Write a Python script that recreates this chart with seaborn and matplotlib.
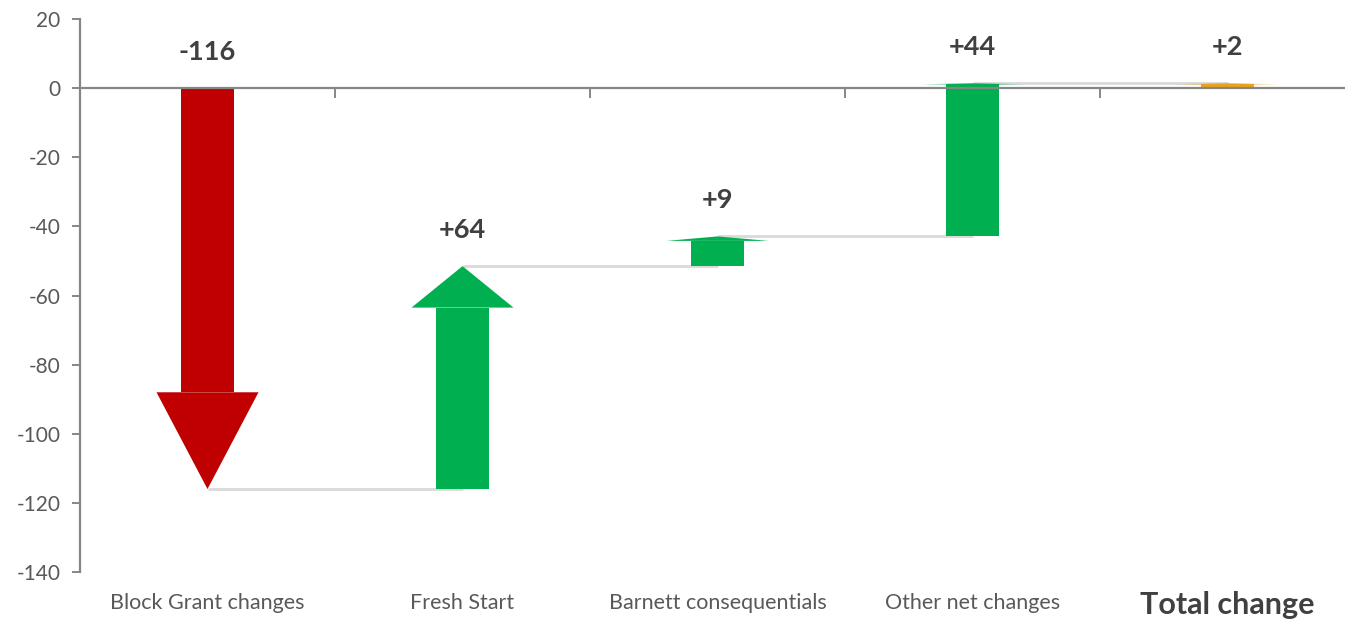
import numpy as np
import pandas as pd
import matplotlib
matplotlib.use("Agg")
import matplotlib.pyplot as plt
import seaborn as sns
from matplotlib.patches import Polygon

# Data
categories = ["Block Grant changes", "Fresh Start", "Barnett consequentials",
              "Other net changes", "Total change"]
changes = [-116, 64.5, 8.6, 44.3]
total = 1.4
value_labels = ["-116", "+64", "+9", "+44", "+2"]

# Styling
RED = "#C00000"
GREEN = "#00B050"
GOLD = "#E8A317"
bar_colors = [RED, GREEN, GREEN, GREEN, GOLD]
head_len = [28, 12, 1.3, 0.3, 0.3]
SHAFT_W = 0.205
HEAD_W = 0.40
AXIS_GREY = "#868686"
TICK_GREY = "#595959"
LABEL_DARK = "#404040"

sns.set_style("ticks")
plt.rcParams['font.family'] = ['Lato', 'DejaVu Sans']
plt.rcParams['axes.unicode_minus'] = False

ends = np.concatenate([np.cumsum(changes), [total]])
starts = np.concatenate([[0], ends[:-2], [0]])
sign = np.sign(ends - starts)
shaft_top = ends - sign * np.array(head_len)

fig = plt.figure(figsize=(13.45, 6.19), dpi=100)
ax = fig.add_axes([80 / 1345, 47 / 619, 1275 / 1345, 553 / 619])

# connectors (behind the arrows)
for i in range(len(categories) - 1):
    ax.plot([i, i + 1], [ends[i], ends[i]], color="#D9D9D9", lw=2, zorder=0.5,
            solid_capstyle="butt")

# arrow shafts
df = pd.DataFrame({"cat": categories, "h": shaft_top - starts})
sns.barplot(data=df, x="cat", y="h", order=categories, bottom=starts,
            width=SHAFT_W, color=GREEN, errorbar=None, ax=ax, zorder=2)
for p, c in zip(ax.patches, bar_colors):
    p.set_facecolor(c)
    p.set_edgecolor("none")

# arrow heads
for i, (b, e, c) in enumerate(zip(shaft_top, ends, bar_colors)):
    ax.add_patch(Polygon([(i - HEAD_W / 2, b), (i + HEAD_W / 2, b), (i, e)],
                         closed=True, facecolor=c, edgecolor="none", zorder=2))

# value labels
for i, lab in enumerate(value_labels):
    ax.text(i, max(starts[i], ends[i]) + 10.5, lab, ha="center", va="center",
            fontsize=19.5, fontweight="bold", color=LABEL_DARK)

# category labels at the bottom
for i, cat in enumerate(categories):
    if cat == "Total change":
        ax.text(i, -0.06, cat, transform=ax.get_xaxis_transform(), ha="center",
                va="center", fontsize=22, fontweight="bold", color=LABEL_DARK)
    else:
        ax.text(i, -0.056, cat, transform=ax.get_xaxis_transform(), ha="center",
                va="center", fontsize=15.5, color=TICK_GREY)

ax.set_xlim(-0.5, 4.5)
ax.set_ylim(-140, 20)
ax.set_yticks(range(-140, 21, 20))
ax.set_xticks([0.5, 1.5, 2.5, 3.5])
ax.set_xticklabels([])
ax.set_xlabel("")
ax.set_ylabel("")

ax.spines["top"].set_visible(False)
ax.spines["right"].set_visible(False)
ax.spines["bottom"].set_position(("data", 0))
for s in ["left", "bottom"]:
    ax.spines[s].set_color(AXIS_GREY)
    ax.spines[s].set_linewidth(1.6)
ax.tick_params(axis="x", direction="out", length=7, width=1.4, color=AXIS_GREY)
ax.tick_params(axis="y", direction="out", length=6, width=1.4, color=AXIS_GREY,
               labelsize=15, labelcolor=TICK_GREY, pad=8)

fig.savefig("out.png", dpi=100)
